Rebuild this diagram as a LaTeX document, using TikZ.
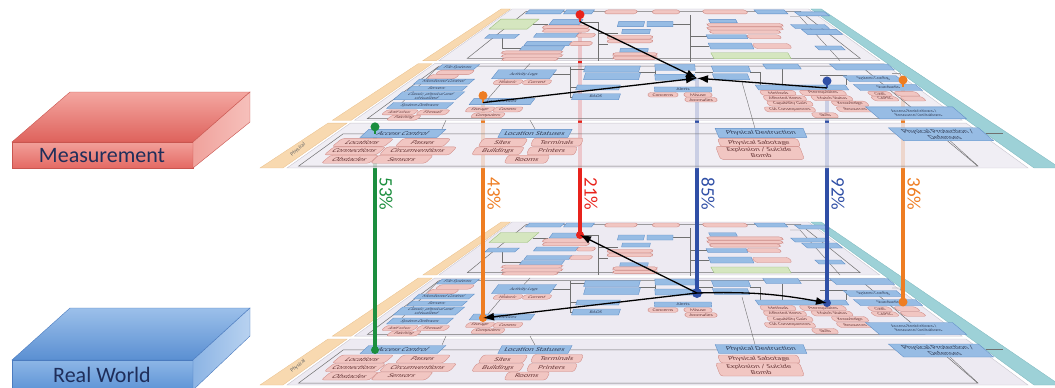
\documentclass[tikz,border=0pt]{standalone}
\usepackage{fontspec}
\setmainfont{Carlito}
\usetikzlibrary{arrows.meta}
\definecolor{cgreen}{HTML}{1B8E3E}
\definecolor{corange}{HTML}{EE7D22}
\definecolor{cred}{HTML}{E8231C}
\definecolor{cblue}{HTML}{2F4FA6}
\definecolor{lav}{HTML}{EDEAF2}
\definecolor{panelb}{HTML}{C8C5CE}
\definecolor{frm}{HTML}{707070}
\definecolor{orstrip}{HTML}{F8D9B0}
\definecolor{orstripd}{HTML}{E9C08C}
\definecolor{tealf}{HTML}{9DD1D7}
\definecolor{teald}{HTML}{7DB8BF}
\definecolor{bbf}{HTML}{97BCE4}
\definecolor{bbd}{HTML}{5E8DC6}
\definecolor{pkf}{HTML}{F1C6C2}
\definecolor{pkd}{HTML}{CF8B86}
\definecolor{gbf}{HTML}{D5E6BF}
\definecolor{gbd}{HTML}{98BD77}
\definecolor{boxtxt}{HTML}{34405A}
\definecolor{pktxt}{HTML}{6A3A3A}
\definecolor{navy}{HTML}{1F2E5A}
\definecolor{mtopb}{HTML}{F4A7A1}
\definecolor{mtopf}{HTML}{DE625C}
\definecolor{mfr1}{HTML}{F2A09A}
\definecolor{mfr2}{HTML}{E46A64}
\definecolor{msd1}{HTML}{F0A29C}
\definecolor{msd2}{HTML}{F6C0BB}
\definecolor{medge}{HTML}{C9554F}
\definecolor{rtopb}{HTML}{9CC0EA}
\definecolor{rtopf}{HTML}{5A8FD2}
\definecolor{rfr1}{HTML}{8DB6E6}
\definecolor{rfr2}{HTML}{5E94D6}
\definecolor{rsd1}{HTML}{8CB4E4}
\definecolor{rsd2}{HTML}{B8D2F0}
\definecolor{redge}{HTML}{4B7BBF}

\tikzset{
  declare function={px(\XX,\TT)=662+(\XX-662)*(1-0.6*\TT); py(\TT)=385-163*\TT;},
  bb/.style={draw=bbd, fill=bbf, line width=0.35pt, inner sep=0.3pt, text=boxtxt, align=center},
  pk/.style={draw=pkd, fill=pkf, line width=0.35pt, rounded corners=2.5pt, inner sep=0.3pt, text=pktxt, align=center},
  gb/.style={draw=gbd, fill=gbf, line width=0.35pt, inner sep=0.3pt},
  fa/.style={font=\fontsize{8.5}{8.5}\selectfont},
  fb/.style={font=\fontsize{5.5}{5.5}\selectfont},
  fc/.style={font=\fontsize{4}{4}\selectfont},
  panel/.style={fill=lav, draw=panelb, line width=0.4pt},
  strip/.style={fill=orstrip, draw=orstripd, line width=0.3pt},
  tealstrip/.style={fill=tealf, draw=teald, line width=0.3pt},
  frame/.style={draw=frm, line width=0.5pt},
  conn/.style={draw=frm, line width=0.4pt},
  striptxt/.style={font=\fontsize{5.5}{5.5}\selectfont, text=black!60, inner sep=0pt},
  vline/.style={line width=3.2pt},
  arr/.style={-{Latex[length=11pt,width=8pt]}, line width=1.3pt, black},
  pct/.style={font=\fontsize{19}{19}\selectfont, rotate=-90},
  blocktxt/.style={font=\fontsize{22}{22}\selectfont, text=navy},
}

\newcommand\bx[7]{%
  \pgfmathsetmacro\kk{(662-#3)/(#4-113)}%
  \pgfmathsetmacro\hh{#6/0.7}%
  \node[#1, xslant=\kk, yscale=0.7, minimum width=#5pt, minimum height=\hh pt] (#2) at (#3,#4) {#7};}

\newcommand\pquad[5]{\path[#5] ({px(#1,#3)},{py(#3)}) -- ({px(#2,#3)},{py(#3)}) -- ({px(#2,#4)},{py(#4)}) -- ({px(#1,#4)},{py(#4)}) -- cycle;}

\newcommand\tipcoords{%
  \coordinate (hg) at (375,350);
  \coordinate (ho) at (483,318);
  \coordinate (hr) at (580,235);
  \coordinate (hb) at (697,293);
  \coordinate (hbb) at (827,303);
  \coordinate (hoo) at (903,302);
}

\newcommand\planecontent{%
  \pquad{260}{283}{0}{0.282}{strip}
  \pquad{260}{283}{0.30}{0.656}{strip}
  \pquad{260}{283}{0.675}{1}{strip}
  \pquad{1034}{1060}{0}{1}{tealstrip}
  \pquad{287}{1028}{0}{0.282}{panel}
  \pquad{287}{1028}{0.30}{0.656}{panel}
  \pquad{287}{1028}{0.675}{1}{panel}
  \pquad{296}{980}{0.012}{0.215}{frame}
  \pquad{300}{985}{0.31}{0.64}{frame}
  \pquad{330}{1000}{0.69}{0.985}{frame}
  \node[striptxt, rotate=40] (phys) at (298,366) {Physical};
  % physical connectors
  \draw[conn] (442,345)--(446,336);
  \draw[conn] (535,345)--(530,336);
  \draw[conn] (755,344.5)--(742,297);
  \draw[conn] (950,357)--(978,383);
  \draw[conn] (986,349)--(1003,349);
  % middle connectors
  \draw[conn] (553,289)--(570,289);
  \draw[conn] (570,281)--(570,313);
  \draw[conn] (570,283.5)--(585,283.5);
  \draw[conn] (570,302.5)--(577,302.5);
  \draw[conn] (570,312)--(573,312);
  \draw[conn] (524,284.5)--(530,278);
  \draw[conn] (639,287)--(655,287);
  \draw[conn] (655,282)--(655,292);
  \draw[conn] (695,287)--(713,287);
  \draw[conn] (750,287)--(760,287)--(760,300);
  \draw[conn] (782,284)--(782,300);
  \draw[conn] (820,290)--(846,290)--(846,300);
  \draw[conn] (892,288)--(900,288)--(905,299);
  \draw[conn] (505,294)--(488,314);
  \draw[conn] (438,281.5)--(399,321);
  % top connectors
  \draw[conn] (581,235.5)--(598,235.5)--(598,275);
  \draw[conn] (598,247)--(618,247);
  \draw[conn] (598,258)--(608,258);
  \draw[conn] (502,252)--(502,262)--(521,262);
  \draw[conn] (533,238)--(548,238);
  \draw[conn] (690,228)--(690,276);
  \draw[conn] (690,250)--(707,250);
  \draw[conn] (690,260)--(709,260);
  \draw[conn] (673,237.5)--(690,237.5);
  \draw[conn] (790,230)--(800,230)--(840,275);
  % physical boxes
  \bx{bb,fa}{ac}{403}{349.5}{77}{8}{Access Control}
  \bx{bb,fa}{ls}{535}{349.5}{70}{8}{Location Statuses}
  \bx{bb,fa}{pd}{761}{349}{88}{9}{Physical Destruction}
  \bx{bb,fa}{pp}{941}{350.5}{90}{13}{Physical Protection /\\Defenses}
  \bx{pk,fa}{p1}{363}{359}{52}{8}{Locations}
  \bx{pk,fa}{p2}{423}{359}{48}{8}{Passes}
  \bx{pk,fa}{p3}{355}{367.5}{52}{8}{Connections}
  \bx{pk,fa}{p4}{418}{367.5}{70}{8}{Circumventions}
  \bx{pk,fa}{p5}{350}{376}{48}{8}{Obstacles}
  \bx{pk,fa}{p6}{402}{376}{55}{8}{Sensors}
  \bx{pk,fa}{p7}{503}{359}{45}{8}{Sites}
  \bx{pk,fa}{p8}{557}{358.5}{50}{8}{Terminals}
  \bx{pk,fa}{p9}{498}{367.5}{48}{8}{Buildings}
  \bx{pk,fa}{p10}{552}{367.5}{48}{8}{Printers}
  \bx{pk,fa}{p11}{527}{376}{42}{8}{Rooms}
  \bx{pk,fa}{p12}{759}{359}{80}{8}{Physical Sabotage}
  \bx{pk,fa}{p13}{760}{369.5}{84}{13}{Explosion / Suicide\\Bomb}
  % middle boxes
  \bx{bb,fb}{fs}{458}{281.5}{37}{5}{File Systems}
  \bx{pk,fb}{q1}{455}{287}{35}{4.5}{}
  \bx{pk,fb}{q2}{443}{291.5}{28}{4.5}{}
  \bx{bb,fb}{mc}{444}{296.5}{55}{5}{Monitored Control}
  \bx{bb,fb}{sv}{437}{303.5}{55}{5}{Servers}
  \bx{bb,fb}{cl}{429}{311}{62}{8}{Classic, physical and\\virtualized}
  \bx{bb,fb}{sd}{420}{321}{60}{6}{System Defences}
  \bx{pk,fb}{q3}{400}{328}{32}{5}{Anti-virus}
  \bx{pk,fb}{q4}{433}{328}{30}{5}{Firewall}
  \bx{pk,fb}{q5}{404}{333.5}{30}{5}{Patching}
  \bx{bb,fb}{al}{524}{289}{58}{9}{Activity Logs}
  \bx{pk,fb}{q6}{508}{297}{28}{4.5}{Historic}
  \bx{pk,fb}{q7}{537}{297}{28}{4.5}{Current}
  \bx{bb,fb}{ed}{502}{317}{61}{6}{Local Devices}
  \bx{pk,fb}{q8}{480}{325}{27}{5}{Storage}
  \bx{pk,fb}{q9}{508}{325}{28}{5}{Comms}
  \bx{pk,fb}{q10}{488}{331}{32}{5}{Computers}
  \bx{bb,fb}{m1}{612}{283.5}{55}{6}{}
  \bx{bb,fb}{m2}{612}{291}{55}{7}{}
  \bx{bb,fb}{m3}{598}{302.5}{43}{5}{}
  \bx{bb,fb}{m4}{596}{312}{47}{6}{BAOS}
  \bx{bb,fb}{m5}{675}{282}{40}{6}{}
  \bx{bb,fb}{m6}{675}{292}{40}{6}{}
  \bx{bb,fb}{m7}{683}{304.5}{57}{5}{Alerts}
  \bx{pk,fb}{q11}{663}{310}{30}{4.5}{Concerns}
  \bx{pk,fb}{q12}{698}{310}{28}{4.5}{Misuse}
  \bx{pk,fb}{q13}{701}{315}{32}{4.5}{Anomalies}
  \bx{bb,fb}{m8}{731}{283.5}{37}{6}{}
  \bx{bb,fb}{m9}{731}{291.5}{35}{6}{}
  \bx{bb,fb}{m10}{782}{281}{35}{5}{}
  \bx{bb,fb}{m11}{862}{281.5}{58}{6}{}
  \bx{bb,fb}{m12}{802}{302.5}{90}{5}{}
  \bx{pk,fb}{q14}{778}{308}{35}{5}{Methods}
  \bx{pk,fb}{q15}{823}{308}{45}{5}{Prerequisites}
  \bx{pk,fb}{q16}{785}{313.5}{42}{5}{Affected Items}
  \bx{pk,fb}{q17}{832}{313.5}{40}{5}{Match Status}
  \bx{pk,fb}{q18}{790}{319}{45}{5}{Capability Gain}
  \bx{pk,fb}{q19}{850}{319}{35}{5}{Knowledge}
  \bx{pk,fb}{q20}{790}{325}{50}{5}{CIA Consequences}
  \bx{pk,fb}{q21}{855}{325}{35}{5}{Resources}
  \bx{pk,fb}{q22}{825}{331}{25}{5}{Skills}
  \bx{bb,fb}{sc}{873}{293.5}{53}{6}{System Config}
  \bx{bb,fb}{st}{888}{302.5}{62}{6}{Standards}
  \bx{pk,fb}{q23}{880}{309}{22}{4.5}{CWE}
  \bx{pk,fb}{q24}{907}{309}{22}{4.5}{}
  \bx{pk,fb}{q25}{885}{314}{25}{4.5}{CAPEC}
  \bx{pk,fb}{q26}{913}{314}{22}{4.5}{}
  \bx{bb,fb}{ar}{916}{328.5}{87}{12}{Access Restrictions /\\Resource Limitations}
  % top band boxes
  \bx{bb,fc}{t1}{545}{225}{35}{4}{}
  \bx{bb,fc}{t2}{579}{225}{28}{4}{}
  \bx{pk,fc}{t3}{621}{225}{32}{4}{}
  \bx{pk,fc}{t4}{666}{225}{27}{4}{}
  \bx{pk,fc}{t5}{725}{225}{44}{4}{}
  \bx{bb,fc}{t6}{771}{225}{30}{4}{}
  \bx{gb,fc}{t7}{514}{237.5}{38}{10}{}
  \bx{bb,fc}{t8}{566}{235.5}{30}{5}{}
  \bx{pk,fc}{t9}{566}{240.5}{46}{3.5}{}
  \bx{pk,fc}{t10}{566}{244}{46}{3.5}{}
  \bx{bb,fc}{t11}{631}{237.5}{26}{5}{}
  \bx{bb,fc}{t12}{660}{237.5}{26}{5}{}
  \bx{bb,fc}{t13}{636}{245}{28}{4}{}
  \bx{bb,fc}{t14}{502}{250}{30}{4}{}
  \bx{bb,fc}{t15}{556}{249}{42}{4}{}
  \bx{pk,fc}{t16}{586}{249}{18}{4}{}
  \bx{pk,fc}{t17}{630}{251}{45}{3.5}{}
  \bx{pk,fc}{t18}{630}{255}{45}{3.5}{}
  \bx{bb,fc}{t19}{548}{257.5}{45}{4}{}
  \bx{pk,fc}{t20}{581}{257.5}{22}{4}{}
  \bx{bb,fc}{t21}{542}{262.5}{42}{4}{}
  \bx{pk,fc}{t22}{532}{266.5}{60}{3}{}
  \bx{pk,fc}{t23}{532}{270}{60}{3}{}
  \bx{pk,fc}{t24}{530}{273.5}{55}{3}{}
  \bx{bb,fc}{t25}{634}{264.5}{28}{3.5}{}
  \bx{pk,fc}{t26}{635}{268.5}{44}{3.2}{}
  \bx{pk,fc}{t27}{635}{272}{44}{3.2}{}
  \bx{bb,fc}{t28}{723}{234.5}{27}{3.5}{}
  \bx{pk,fc}{t29}{745}{238.5}{75}{3.2}{}
  \bx{pk,fc}{t30}{745}{242}{75}{3.2}{}
  \bx{pk,fc}{t31}{745}{245.5}{70}{3.2}{}
  \bx{bb,fc}{t32}{727}{250.5}{40}{4}{}
  \bx{pk,fc}{t33}{764}{250.5}{33}{4}{}
  \bx{bb,fc}{t34}{731}{260}{43}{6}{}
  \bx{pk,fc}{t35}{772}{260}{37}{5}{}
  \bx{gb,fc}{t36}{751}{270}{77}{6}{}
  \bx{bb,fc}{t37}{810}{240}{34}{4}{}
  \bx{bb,fc}{t38}{822}{245.5}{35}{5}{}
  \bx{bb,fc}{t39}{830}{262}{26}{4}{}
  \bx{bb,fc}{t40}{812}{227}{30}{4}{}
}

\begin{document}
\begin{tikzpicture}[x=1pt, y=-1pt]
\useasboundingbox (0,0) rectangle (1055,388);
% left blocks
\shade[top color=mtopb, bottom color=mtopf, draw=medge, line width=0.4pt] (12,142) -- (70,92) -- (250,92) -- (193,142) -- cycle;
\shade[top color=mfr1, bottom color=mfr2, draw=medge, line width=0.4pt] (12,142) rectangle (193,168);
\shade[left color=msd1, right color=msd2, draw=medge, line width=0.4pt] (193,142) -- (250,92) -- (250,122) -- (193,168) -- cycle;
\node[blocktxt] (meas) at (102,156) {Measurement};
\shade[top color=rtopb, bottom color=rtopf, draw=redge, line width=0.4pt] (12,360) -- (70,308) -- (250,308) -- (193,360) -- cycle;
\shade[top color=rfr1, bottom color=rfr2, draw=redge, line width=0.4pt] (12,360) rectangle (193,390);
\shade[left color=rsd1, right color=rsd2, draw=redge, line width=0.4pt] (193,360) -- (250,308) -- (250,336) -- (193,390) -- cycle;
\node[blocktxt] (rw) at (102,375) {Real World};
% bottom plane
\begin{scope}[name prefix=r-]
  \planecontent
  \tipcoords
\end{scope}
% top plane tip coordinates
\begin{scope}[name prefix=m-, shift={(0,-207.6)}, yscale=0.9755]
  \tipcoords
\end{scope}
% vertical lines
\draw[vline, cgreen] ([yshift=7pt]m-hg) -- (r-hg);
\draw[vline, corange] ([yshift=7pt]m-ho) -- (r-ho);
\draw[vline, cred] ([yshift=7pt]m-hr) -- (r-hr);
\draw[vline, cblue] (m-hb) -- (r-hb);
\draw[vline, cblue] ([yshift=7pt]m-hbb) -- (r-hbb);
\draw[vline, corange] ([yshift=7pt]m-hoo) -- (r-hoo);
% top plane
\begin{scope}[name prefix=m-, shift={(0,-207.6)}, yscale=0.9755, panel/.style={fill=lav, draw=panelb, line width=0.4pt, fill opacity=0.82}]
  \planecontent
\end{scope}
% top pins
\foreach \c/\p in {cgreen/hg, corange/ho, cred/hr, cblue/hbb, corange/hoo}{
  \draw[\c, line width=2pt] ([yshift=7pt]m-\p) -- (m-\p);
  \fill[\c] ([yshift=7pt]m-\p) circle (4.5pt);
}
% top arrows
\draw[arr] (m-hr) -- (m-hb);
\draw[arr] (m-ho) -- (m-hb);
\draw[arr] (m-hbb) -- (m-hb);
% bottom dots
\fill[cgreen] (r-hg) circle (4pt);
\fill[corange] (r-ho) circle (4pt);
\fill[cred] (r-hr) circle (4pt);
\fill[cblue] (r-hb) circle (5pt);
\fill[cblue] (r-hbb) circle (4pt);
\fill[corange] (r-hoo) circle (4.5pt);
% bottom arrows
\draw[arr] (r-hb) -- (r-hr);
\draw[arr] (r-hb) -- (r-ho);
\draw[arr] (r-hb) to[bend left=6] (r-hbb);
% labels
\coordinate (ypos) at (0,194);
\path (r-hg |- ypos) ++(11,0) node[pct, text=cgreen] (l53) {53\%};
\path (r-ho |- ypos) ++(11,0) node[pct, text=corange] (l43) {43\%};
\path (r-hr |- ypos) ++(11,0) node[pct, text=cred] (l21) {21\%};
\path (r-hb |- ypos) ++(11,0) node[pct, text=cblue] (l85) {85\%};
\path (r-hbb |- ypos) ++(11,0) node[pct, text=cblue] (l92) {92\%};
\path (r-hoo |- ypos) ++(11,0) node[pct, text=corange] (l36) {36\%};
\end{tikzpicture}
\end{document}
